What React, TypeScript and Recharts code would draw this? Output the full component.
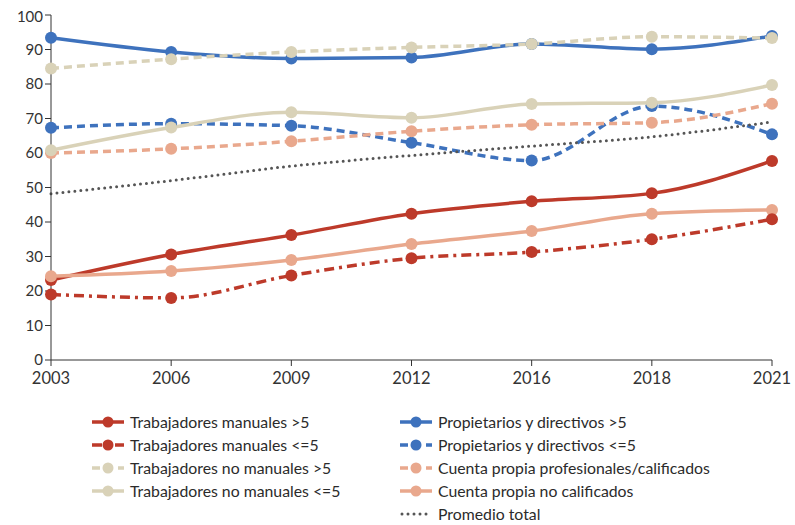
import { CartesianGrid, Line, LineChart, XAxis, YAxis } from "recharts"

const years = ["2003", "2006", "2009", "2012", "2016", "2018", "2021"]

const manualesMas5 = [23.2, 30.6, 36.2, 42.4, 46.0, 48.3, 57.7]
const manualesMenos5 = [19.0, 18.0, 24.5, 29.5, 31.3, 35.0, 40.8]
const noManualesMas5 = [84.5, 87.2, 89.3, 90.6, 91.6, 93.7, 93.3]
const noManualesMenos5 = [60.8, 67.4, 71.8, 70.2, 74.2, 74.6, 79.7]
const propietariosMas5 = [93.4, 89.3, 87.4, 87.7, 91.6, 90.1, 93.9]
const propietariosMenos5 = [67.3, 68.5, 67.9, 63.0, 57.8, 73.6, 65.4]
const profesionales = [60.0, 61.2, 63.4, 66.3, 68.2, 68.8, 74.3]
const noCalificados = [24.3, 25.8, 29.0, 33.6, 37.4, 42.4, 43.5]
const promedio = [48.2, 52.0, 56.2, 59.3, 62.0, 64.7, 69.0]

const yTicks = [0, 10, 20, 30, 40, 50, 60, 70, 80, 90, 100]

const RED = "#bd3a2a"
const BLUE = "#3e72bd"
const BEIGE = "#d9d2b8"
const SALMON = "#e9a88d"
const GRAY = "#555555"

const data = years.map((year, i) => ({
  year,
  manMas5: manualesMas5[i],
  manMenos5: manualesMenos5[i],
  noManMas5: noManualesMas5[i],
  noManMenos5: noManualesMenos5[i],
  propMas5: propietariosMas5[i],
  propMenos5: propietariosMenos5[i],
  prof: profesionales[i],
  noCal: noCalificados[i],
  prom: promedio[i],
}))

interface SeriesDef {
  key: string
  name: string
  color: string
  dash?: string
  dot: boolean
}

const series: Record<string, SeriesDef> = {
  manMas5: { key: "manMas5", name: "Trabajadores manuales >5", color: RED, dot: true },
  manMenos5: { key: "manMenos5", name: "Trabajadores manuales <=5", color: RED, dash: "10 5 3 5", dot: true },
  noManMas5: { key: "noManMas5", name: "Trabajadores no manuales >5", color: BEIGE, dash: "8 5", dot: true },
  noManMenos5: { key: "noManMenos5", name: "Trabajadores no manuales <=5", color: BEIGE, dot: true },
  propMas5: { key: "propMas5", name: "Propietarios y directivos >5", color: BLUE, dot: true },
  propMenos5: { key: "propMenos5", name: "Propietarios y directivos <=5", color: BLUE, dash: "8 5", dot: true },
  prof: { key: "prof", name: "Cuenta propia profesionales/calificados", color: SALMON, dash: "8 5", dot: true },
  noCal: { key: "noCal", name: "Cuenta propia no calificados", color: SALMON, dot: true },
  prom: { key: "prom", name: "Promedio total", color: GRAY, dash: "0 6", dot: false },
}

// draw order (later = on top)
const drawOrder = ["propMas5", "propMenos5", "prof", "manMas5", "noCal", "manMenos5", "noManMas5", "noManMenos5", "prom"]

const legendLeft = ["manMas5", "manMenos5", "noManMas5", "noManMenos5"]
const legendRight = ["propMas5", "propMenos5", "prof", "noCal", "prom"]

function LegendIcon({ s }: { s: SeriesDef }) {
  const dotted = s.key === "prom"
  return (
    <svg width={32} height={14} style={{ display: "block" }}>
      <line
        x1={dotted ? 2 : 0}
        y1={7}
        x2={32}
        y2={7}
        stroke={s.color}
        strokeWidth={dotted ? 3 : 3.5}
        strokeDasharray={s.dash}
        strokeLinecap={dotted ? "round" : "butt"}
      />
      {s.dot && <circle cx={16} cy={7} r={5.5} fill={s.color} />}
    </svg>
  )
}

function LegendColumn({ keys, left }: { keys: string[]; left: number }) {
  return (
    <div style={{ position: "absolute", left, top: 411 }}>
      {keys.map((k) => (
        <div key={k} style={{ display: "flex", alignItems: "center", height: 22.8 }}>
          <LegendIcon s={series[k]} />
          <span style={{ marginLeft: 6, fontSize: 15.8, lineHeight: "18px", color: "#2b2b2b" }}>{series[k].name}</span>
        </div>
      ))}
    </div>
  )
}

export default function App() {
  return (
    <div style={{ position: "relative", width: 795, height: 525, fontFamily: "Lato, sans-serif", background: "#fff" }}>
      <style>{"body{margin:0}"}</style>
      <div style={{ position: "absolute", left: 8, top: 8 }}>
        <LineChart width={787} height={392} data={data} margin={{ top: 7, right: 23, left: 0, bottom: 10 }}>
          <CartesianGrid stroke="none" />
          <XAxis
            dataKey="year"
            interval={0}
            padding={{ left: 0, right: 0 }}
            stroke="#333"
            tickSize={6}
            tickMargin={6}
            height={30}
            tick={{ fontSize: 16.5, fill: "#333" }}
          />
          <YAxis
            domain={[0, 100]}
            ticks={yTicks}
            width={43}
            stroke="#333"
            tickSize={6}
            tick={{ fontSize: 15, fill: "#333" }}
          />
          {drawOrder.map((k) => {
            const s = series[k]
            const dotted = k === "prom"
            return (
              <Line
                key={k}
                type="monotone"
                dataKey={k}
                name={s.name}
                stroke={s.color}
                strokeWidth={dotted ? 3 : 3.5}
                strokeDasharray={s.dash}
                strokeLinecap={dotted ? "round" : "butt"}
                dot={s.dot ? { r: 6, fill: s.color, stroke: s.color, strokeWidth: 0, strokeDasharray: "" } : false}
                isAnimationActive={false}
              />
            )
          })}
        </LineChart>
      </div>
      <LegendColumn keys={legendLeft} left={92} />
      <LegendColumn keys={legendRight} left={400} />
    </div>
  )
}
